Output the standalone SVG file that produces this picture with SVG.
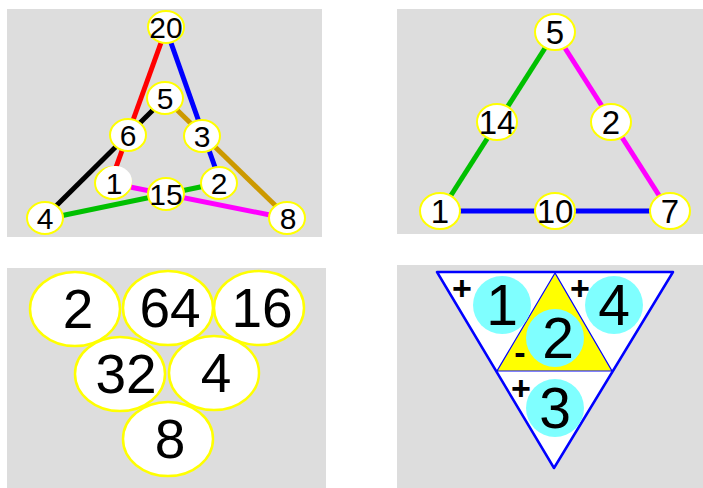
<svg xmlns="http://www.w3.org/2000/svg" width="703" height="488" viewBox="0 0 703 488">
<style>
.bg{fill:#dddddd}
.n{fill:#ffffff;stroke:#ffff00;stroke-width:2}
.nb{fill:#ffffff;stroke:#ffff00;stroke-width:2.5}
.t{font-family:"Liberation Sans",Arial,sans-serif;fill:#000;text-anchor:middle}
.t1{font-size:30px}
.t2{font-size:33px}
.t3{font-size:55px}
.t4{font-size:57px}
.s{font-size:34px;font-weight:bold}
.c{fill:#7fffff}
.e{stroke-width:5;fill:none}
</style>
<rect class="bg" x="7" y="9" width="315" height="228"/>
<rect class="bg" x="397" y="9" width="306" height="225"/>
<rect class="bg" x="7" y="268" width="319" height="220"/>
<rect class="bg" x="397" y="265" width="306" height="223"/>

<g id="connectors">
<line class="e" x1="162" y1="40" x2="115" y2="170" stroke="#ff0000"/>
<line class="e" x1="170" y1="40" x2="216" y2="170" stroke="#0000ff"/>
<line class="e" x1="155" y1="108" x2="55" y2="207" stroke="#000000"/>
<line class="e" x1="175" y1="108" x2="278" y2="208" stroke="#cc9900"/>
<line class="e" x1="60" y1="216" x2="205" y2="186" stroke="#00c000"/>
<line class="e" x1="125" y1="186" x2="275" y2="216" stroke="#ff00ff"/>
<line class="e" x1="547" y1="45" x2="448" y2="200" stroke="#00c000"/>
<line class="e" x1="563" y1="45" x2="662" y2="200" stroke="#ff00ff"/>
<line class="e" x1="440" y1="211" x2="670" y2="211" stroke="#0000ff"/>
</g>

<g id="n20"><ellipse class="n" cx="166" cy="27" rx="18" ry="16"/><text class="t t1" x="166" y="38">20</text></g>
<g id="n5a"><ellipse class="n" cx="165" cy="98" rx="18" ry="16"/><text class="t t1" x="165" y="109">5</text></g>
<g id="n6"><ellipse class="n" cx="128" cy="135" rx="18" ry="16"/><text class="t t1" x="128" y="146">6</text></g>
<g id="n3"><ellipse class="n" cx="202" cy="136" rx="18" ry="16"/><text class="t t1" x="202" y="147">3</text></g>
<g id="n1a"><ellipse class="n" cx="113" cy="183" rx="18" ry="16"/><ellipse cx="115" cy="181" rx="17" ry="15" fill="#fff"/><text class="t t1" x="114" y="194">1</text></g>
<g id="n2a"><ellipse class="n" cx="219" cy="183" rx="18" ry="16"/><text class="t t1" x="219" y="194">2</text></g>
<g id="n15"><ellipse class="n" cx="166" cy="194" rx="18" ry="16"/><text class="t t1" x="166" y="205">15</text></g>
<g id="n4a"><ellipse class="n" cx="45" cy="218" rx="18" ry="16"/><text class="t t1" x="45" y="229">4</text></g>
<g id="n8a"><ellipse class="n" cx="287" cy="218" rx="18" ry="16"/><text class="t t1" x="288" y="229">8</text></g>

<g id="m5"><ellipse class="n" cx="555" cy="32" rx="20" ry="18"/><text class="t t2" x="555" y="44">5</text></g>
<g id="m14"><ellipse class="n" cx="497" cy="122" rx="20" ry="18"/><text class="t t2" x="497" y="134">14</text></g>
<g id="m2"><ellipse class="n" cx="611" cy="122" rx="20" ry="18"/><text class="t t2" x="611" y="134">2</text></g>
<g id="m1"><ellipse class="n" cx="440" cy="211" rx="20" ry="18"/><text class="t t2" x="440" y="223">1</text></g>
<g id="m10"><ellipse class="n" cx="555" cy="211" rx="20" ry="18"/><text class="t t2" x="555" y="223">10</text></g>
<g id="m7"><ellipse class="n" cx="670" cy="211" rx="20" ry="18"/><text class="t t2" x="670" y="223">7</text></g>

<g id="b2"><ellipse class="nb" cx="75" cy="309" rx="45" ry="37"/><text class="t t3" x="78" y="328">2</text></g>
<g id="b64"><ellipse class="nb" cx="168" cy="308" rx="45" ry="37"/><text class="t t3" x="170" y="327">64</text></g>
<g id="b16"><ellipse class="nb" cx="259" cy="308" rx="45" ry="37"/><text class="t t3" x="262" y="327">16</text></g>
<g id="b32"><ellipse class="nb" cx="120" cy="374" rx="45" ry="37"/><text class="t t3" x="126" y="393">32</text></g>
<g id="b4"><ellipse class="nb" cx="214" cy="373" rx="45" ry="37"/><text class="t t3" x="216" y="392">4</text></g>
<g id="b8"><ellipse class="nb" cx="168" cy="439" rx="45" ry="37"/><text class="t t3" x="170" y="458">8</text></g>

<g id="tri">
<polygon points="437,272 673,272 554,468" fill="#ffffff" stroke="#0000ff" stroke-width="2.5" stroke-linejoin="round"/>
<polygon points="555,273 497,371 612,371" fill="#ffff00" stroke="#0000ff" stroke-width="1.2"/>
</g>
<g id="c1"><circle class="c" cx="502" cy="305" r="29"/><text class="t t4" x="502" y="325">1</text><text class="t s" x="462" y="300">+</text></g>
<g id="c4"><circle class="c" cx="614" cy="305" r="29"/><text class="t t4" x="614" y="325">4</text><text class="t s" x="580" y="300">+</text></g>
<g id="c2"><circle class="c" cx="555" cy="338" r="29"/><text class="t t4" x="558" y="358">2</text><text class="t s" x="520" y="364">-</text></g>
<g id="c3"><circle class="c" cx="555" cy="408" r="29"/><text class="t t4" x="555" y="428">3</text><text class="t s" x="521" y="400">+</text></g>
</svg>
